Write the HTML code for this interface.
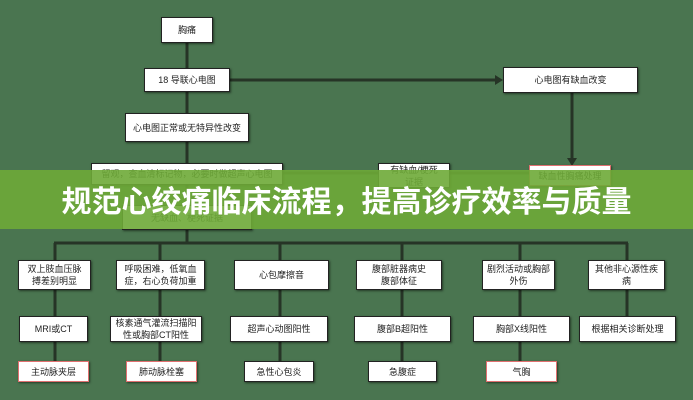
<!DOCTYPE html>
<html><head><meta charset="utf-8"><style>
body{margin:0;width:693px;height:400px;overflow:hidden;background:#4a7550;position:relative;font-family:"Liberation Sans","Noto Sans CJK SC",sans-serif}
.b{position:absolute;background:#fff;border:1.5px solid #222;box-shadow:1px 1px 2px rgba(0,0,0,.5);box-sizing:border-box;display:flex;align-items:center;justify-content:center;text-align:center;font-size:9px;line-height:12px;color:#222}
.r{border-color:#e07070}
svg{position:absolute;left:0;top:0}
.ban{position:absolute;left:0;top:170px;width:693px;height:59px;background:rgba(110,170,55,.9)}
.t{position:absolute;left:0;top:170px;width:693px;height:59px;line-height:59px;text-align:center;color:#fff;font-weight:bold;font-size:30px;letter-spacing:0px;font-family:"Noto Sans CJK SC","WenQuanYi Zen Hei",sans-serif}
</style></head><body>
<svg width="693" height="400" stroke="#263426" stroke-width="3" fill="#263426">
<line x1="187" y1="43" x2="187" y2="68"/>
<line x1="187" y1="92" x2="187" y2="113"/>
<line x1="230" y1="80" x2="500" y2="80"/><polygon points="503,80 495,75 495,85" stroke="none"/>
<line x1="572" y1="93" x2="572" y2="163"/><polygon points="572,166 567,158 577,158" stroke="none"/>
<line x1="187" y1="142" x2="187" y2="163"/>
<line x1="283" y1="173" x2="378" y2="173"/>
<line x1="450" y1="173" x2="529" y2="173"/>
<line x1="187" y1="185" x2="187" y2="205"/>
<line x1="187" y1="230" x2="187" y2="243"/>
<line x1="54" y1="243" x2="628" y2="243"/>
<g>
<line x1="55" y1="243" x2="55" y2="260"/><line x1="160" y1="243" x2="160" y2="260"/><line x1="280" y1="243" x2="280" y2="260"/><line x1="402" y1="243" x2="402" y2="260"/><line x1="520" y1="243" x2="520" y2="260"/><line x1="627" y1="243" x2="627" y2="260"/>
<line x1="55" y1="290" x2="55" y2="316"/><line x1="160" y1="290" x2="160" y2="316"/><line x1="280" y1="290" x2="280" y2="316"/><line x1="402" y1="290" x2="402" y2="316"/><line x1="520" y1="290" x2="520" y2="316"/><line x1="627" y1="290" x2="627" y2="316"/>
<line x1="55" y1="342" x2="55" y2="361"/><line x1="160" y1="342" x2="160" y2="361"/><line x1="280" y1="342" x2="280" y2="361"/><line x1="402" y1="342" x2="402" y2="361"/><line x1="520" y1="342" x2="520" y2="361"/>
</g>
</svg>
<div class="b" style="left:161px;top:17px;width:52px;height:26px">胸痛</div>
<div class="b" style="left:144px;top:68px;width:86px;height:24px">18 导联心电图</div>
<div class="b" style="left:503px;top:67px;width:135px;height:26px">心电图有缺血改变</div>
<div class="b" style="left:125px;top:113px;width:124px;height:29px">心电图正常或无特异性改变</div>
<div class="b" style="left:91px;top:163px;width:192px;height:22px">留观，查血清标记物，必要时做超声心电图</div>
<div class="b" style="left:378px;top:163px;width:72px;height:25px">有缺血/梗死<br>证据</div>
<div class="b r" style="left:529px;top:165px;width:82px;height:21px">缺血性胸痛处理</div>
<div class="b" style="left:122px;top:205px;width:130px;height:25px">无缺血、梗死证据</div>
<div class="ban"></div>
<div class="t">规范心绞痛临床流程，提高诊疗效率与质量</div>
<div class="b" style="left:18px;top:260px;width:73px;height:30px">双上肢血压脉<br>搏差别明显</div>
<div class="b" style="left:116px;top:260px;width:89px;height:30px">呼吸困难，低氧血<br>症，右心负荷加重</div>
<div class="b" style="left:234px;top:260px;width:95px;height:30px">心包摩擦音</div>
<div class="b" style="left:356px;top:260px;width:86px;height:30px">腹部脏器病史<br>腹部体征</div>
<div class="b" style="left:482px;top:260px;width:73px;height:30px">剧烈活动或胸部<br>外伤</div>
<div class="b" style="left:588px;top:260px;width:77px;height:30px">其他非心源性疾<br>病</div>
<div class="b" style="left:19px;top:316px;width:69px;height:26px">MRI或CT</div>
<div class="b" style="left:110px;top:316px;width:92px;height:26px">核素通气灌流扫描阳<br>性或胸部CT阳性</div>
<div class="b" style="left:230px;top:316px;width:98px;height:26px">超声心动图阳性</div>
<div class="b" style="left:354px;top:316px;width:97px;height:26px">腹部B超阳性</div>
<div class="b" style="left:473px;top:316px;width:97px;height:26px">胸部X线阳性</div>
<div class="b" style="left:579px;top:316px;width:97px;height:26px">根据相关诊断处理</div>
<div class="b r" style="left:18px;top:361px;width:71px;height:21px">主动脉夹层</div>
<div class="b r" style="left:126px;top:361px;width:71px;height:21px">肺动脉栓塞</div>
<div class="b" style="left:244px;top:361px;width:70px;height:21px">急性心包炎</div>
<div class="b" style="left:368px;top:361px;width:69px;height:21px">急腹症</div>
<div class="b r" style="left:486px;top:361px;width:71px;height:21px">气胸</div>
</body></html>
